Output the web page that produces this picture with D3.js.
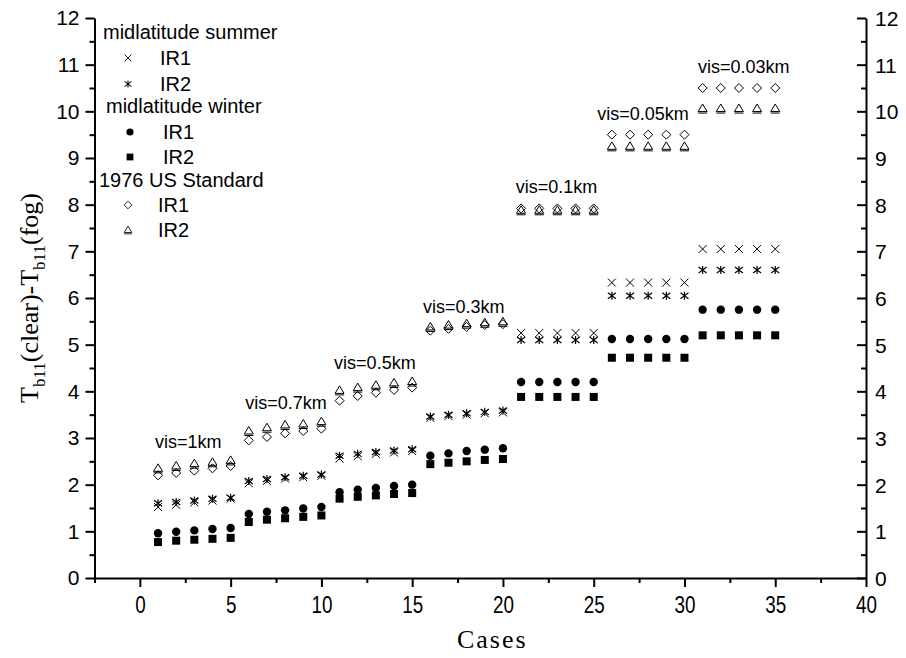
<!DOCTYPE html>
<meta charset="utf-8">
<style>
    body {
        margin: 0;
        padding: 0;
        background: #fff;
    }

    svg {
        display: block;
    }

    .tick-label {
        font-family: "Liberation Sans", Arial, sans-serif;
        font-size: 21px;
        fill: #000;
    }

    .legend text, .note {
        font-family: "Liberation Sans", Arial, sans-serif;
        fill: #000;
    }

    .title {
        font-family: "Liberation Serif", "Times New Roman", serif;
        font-size: 26px;
        fill: #000;
    }
</style>
<svg width="906" height="658"></svg>
<script src="https://cdnjs.cloudflare.com/ajax/libs/d3/7.8.5/d3.min.js"></script>
<script>
    // cases 1..35, seven visibility groups of five
    var cases = [1, 2, 3, 4, 5, 6, 7, 8, 9, 10, 11, 12, 13, 14, 15, 16, 17, 18, 19, 20,
        21, 22, 23, 24, 25, 26, 27, 28, 29, 30, 31, 32, 33, 34, 35];

    var mlsIR1 = [1.52, 1.57, 1.62, 1.66, 1.70, 2.03, 2.08, 2.13, 2.16, 2.19,
        2.56, 2.61, 2.66, 2.69, 2.72, 3.43, 3.47, 3.50, 3.53, 3.55,
        5.25, 5.25, 5.25, 5.25, 5.25, 6.33, 6.33, 6.33, 6.33, 6.33,
        7.05, 7.05, 7.05, 7.05, 7.05];
    var mlsIR2 = [1.60, 1.63, 1.66, 1.70, 1.72, 2.08, 2.12, 2.16, 2.19, 2.22,
        2.62, 2.66, 2.70, 2.73, 2.76, 3.46, 3.50, 3.53, 3.56, 3.59,
        5.10, 5.10, 5.10, 5.10, 5.10, 6.05, 6.05, 6.05, 6.05, 6.05,
        6.60, 6.60, 6.60, 6.60, 6.60];
    var mlwIR1 = [0.96, 0.99, 1.02, 1.05, 1.07, 1.37, 1.42, 1.45, 1.49, 1.52,
        1.84, 1.89, 1.93, 1.97, 2.00, 2.62, 2.67, 2.72, 2.75, 2.78,
        4.20, 4.20, 4.20, 4.20, 4.20, 5.12, 5.12, 5.12, 5.12, 5.12,
        5.75, 5.75, 5.75, 5.75, 5.75];
    var mlwIR2 = [0.77, 0.80, 0.82, 0.84, 0.86, 1.20, 1.25, 1.28, 1.31, 1.34,
        1.70, 1.74, 1.77, 1.80, 1.82, 2.44, 2.47, 2.50, 2.53, 2.55,
        3.88, 3.88, 3.88, 3.88, 3.88, 4.72, 4.72, 4.72, 4.72, 4.72,
        5.20, 5.20, 5.20, 5.20, 5.20];
    var usIR1 = [2.20, 2.25, 2.30, 2.35, 2.40, 2.95, 3.02, 3.10, 3.15, 3.20,
        3.80, 3.90, 3.97, 4.03, 4.08, 5.30, 5.34, 5.38, 5.42, 5.44,
        7.92, 7.92, 7.92, 7.92, 7.92, 9.50, 9.50, 9.50, 9.50, 9.50,
        10.50, 10.50, 10.50, 10.50, 10.50];
    var usIR2 = [2.35, 2.40, 2.45, 2.48, 2.52, 3.15, 3.22, 3.28, 3.30, 3.35,
        4.02, 4.08, 4.13, 4.18, 4.21, 5.38, 5.42, 5.45, 5.47, 5.49,
        7.88, 7.88, 7.88, 7.88, 7.88, 9.25, 9.25, 9.25, 9.25, 9.25,
        10.06, 10.06, 10.06, 10.06, 10.06];

    // visibility notes: text, case where it starts, value of its baseline
    var visText = ["vis=1km", "vis=0.7km", "vis=0.5km", "vis=0.3km", "vis=0.1km", "vis=0.05km", "vis=0.03km"];
    var visCase = [0.83, 5.8, 10.7, 15.6, 20.7, 25.2, 30.75];
    var visValue = [2.79, 3.62, 4.48, 5.68, 8.25, 9.82, 10.82];

    var xTicks = [0, 5, 10, 15, 20, 25, 30, 35, 40];
    var xMinor = [-2.5, 2.5, 7.5, 12.5, 17.5, 22.5, 27.5, 32.5, 37.5];
    var yTicks = [0, 1, 2, 3, 4, 5, 6, 7, 8, 9, 10, 11, 12];
    var yMinor = [0.5, 1.5, 2.5, 3.5, 4.5, 5.5, 6.5, 7.5, 8.5, 9.5, 10.5, 11.5];

    var svg = d3.select("svg");
    var plotLeft = 94.5, plotRight = 866, plotTop = 18, plotBottom = 578;

    var x = d3.scaleLinear().domain([-2.5, 40]).range([plotLeft, plotRight]);
    var y = d3.scaleLinear().domain([0, 12]).range([plotBottom, plotTop]);

    // ---- axes
    var xAxis = svg.append("g").attr("transform", "translate(0," + plotBottom + ")")
        .call(d3.axisBottom(x).tickValues(xTicks).tickSize(9).tickSizeOuter(0).tickPadding(10));
    svg.append("g").attr("transform", "translate(0," + plotBottom + ")")
        .call(d3.axisBottom(x).tickValues(xMinor).tickSize(5).tickFormat(""))
        .select(".domain").remove();

    var yAxisL = svg.append("g").attr("transform", "translate(" + plotLeft + ",0)")
        .call(d3.axisLeft(y).tickValues(yTicks).tickSize(9).tickSizeOuter(0).tickPadding(6));
    svg.append("g").attr("transform", "translate(" + plotLeft + ",0)")
        .call(d3.axisLeft(y).tickValues(yMinor).tickSize(5).tickFormat(""))
        .select(".domain").remove();

    // right axis: ticks point into the plot, labels outside
    var yAxisR = svg.append("g").attr("transform", "translate(" + plotRight + ",0)")
        .call(d3.axisLeft(y).tickValues(yTicks).tickSize(9).tickSizeOuter(0).tickFormat(""));
    svg.append("g").attr("transform", "translate(" + plotRight + ",0)")
        .call(d3.axisLeft(y).tickValues(yMinor).tickSize(5).tickFormat(""))
        .select(".domain").remove();
    yAxisR.selectAll(".tick").append("text")
        .attr("x", 9)
        .attr("dy", "0.36em")
        .attr("text-anchor", "start")
        .text(function(d) { return d; });

    svg.selectAll(".domain").attr("stroke", "#000").attr("stroke-width", 2);
    svg.selectAll(".tick line").attr("stroke", "#000").attr("stroke-width", 2);
    svg.selectAll("g").attr("font-family", null).attr("font-size", null);
    svg.selectAll(".tick text").attr("class", "tick-label").attr("fill", null);

    // condensed look of the bottom tick numbers
    xAxis.selectAll(".tick text")
        .style("font-size", "23px")
        .attr("transform", "scale(0.82,1)");

    // ---- axis titles
    svg.append("text").attr("class", "title")
        .attr("x", (plotLeft + plotRight) / 2 + 12).attr("y", 648)
        .attr("text-anchor", "middle")
        .attr("letter-spacing", "2px")
        .text("Cases");

    var yt = svg.append("text").attr("class", "title")
        .attr("transform", "translate(38," + ((plotTop + plotBottom) / 2) + ") rotate(-90)")
        .attr("text-anchor", "middle");
    yt.append("tspan").text("T");
    yt.append("tspan").attr("dy", 7).style("font-size", "17px").text("b11");
    yt.append("tspan").attr("dy", -7).text("(clear)-T");
    yt.append("tspan").attr("dy", 7).style("font-size", "17px").text("b11");
    yt.append("tspan").attr("dy", -7).text("(fog)");

    // ---- markers
    function drawSym(g, kind) {
        var s = 4;
        if (kind === "cross") {
            g.append("path").attr("d", "M-" + s + ",-" + s + "L" + s + "," + s + "M-" + s + "," + s + "L" + s + ",-" + s)
                .attr("stroke", "#000").attr("stroke-width", 1).attr("fill", "none");
        } else if (kind === "star") {
            g.append("path").attr("d", "M-" + s + ",-" + (s - 1) + "L" + s + "," + (s - 1) +
                    "M-" + s + "," + (s - 1) + "L" + s + ",-" + (s - 1) + "M0,-" + s + "L0," + s)
                .attr("stroke", "#000").attr("stroke-width", 1.2).attr("fill", "none");
        } else if (kind === "circle") {
            g.append("circle").attr("r", 4.2).attr("fill", "#000");
        } else if (kind === "square") {
            g.append("rect").attr("x", -4).attr("y", -4).attr("width", 8).attr("height", 8).attr("fill", "#000");
        } else if (kind === "diamond") {
            g.append("path").attr("d", "M0,-4.5L4.5,0L0,4.5L-4.5,0Z")
                .attr("stroke", "#000").attr("stroke-width", 1).attr("fill", "none");
        } else if (kind === "triangle") {
            g.append("path").attr("d", "M0,-4.5L4.5,3L-4.5,3Z")
                .attr("stroke", "#000").attr("stroke-width", 1).attr("fill", "none");
            g.append("line").attr("x1", -4.5).attr("x2", 4.5).attr("y1", 4.5).attr("y2", 4.5)
                .attr("stroke", "#000").attr("stroke-width", 1);
        }
    }

    var series = [
        { values: usIR1, sym: "diamond" },
        { values: usIR2, sym: "triangle" },
        { values: mlsIR1, sym: "cross" },
        { values: mlsIR2, sym: "star" },
        { values: mlwIR1, sym: "circle" },
        { values: mlwIR2, sym: "square" }
    ];

    series.forEach(function(s) {
        svg.append("g").selectAll("g")
            .data(cases)
            .enter().append("g")
            .attr("transform", function(d, i) {
                return "translate(" + x(d) + "," + y(s.values[i]) + ")";
            })
            .each(function() { drawSym(d3.select(this), s.sym); });
    });

    // ---- vis notes
    svg.append("g").selectAll("text")
        .data(visText)
        .enter().append("text")
        .attr("class", "note")
        .attr("x", function(d, i) { return x(visCase[i]); })
        .attr("y", function(d, i) { return y(visValue[i]); })
        .style("font-size", "18px")
        .text(function(d) { return d; });

    // ---- legend
    var legend = svg.append("g").attr("class", "legend");
    var legendRows = [
        { text: "midlatitude summer", x: 103, y: 32 },
        { sym: "cross", text: "IR1", sx: 128, x: 160, y: 58 },
        { sym: "star", text: "IR2", sx: 128, x: 160, y: 84 },
        { text: "midlatitude winter", x: 106, y: 106 },
        { sym: "circle", text: "IR1", sx: 130, x: 163, y: 132 },
        { sym: "square", text: "IR2", sx: 130, x: 163, y: 157 },
        { text: "1976 US Standard", x: 99, y: 180 },
        { sym: "diamond", text: "IR1", sx: 128, x: 158, y: 205 },
        { sym: "triangle", text: "IR2", sx: 128, x: 158, y: 230 }
    ];
    legendRows.forEach(function(r) {
        legend.append("text")
            .attr("x", r.x).attr("y", r.y)
            .attr("dy", "0.36em")
            .style("font-size", "20px")
            .text(r.text);
        if (r.sym) {
            drawSym(legend.append("g").attr("transform", "translate(" + r.sx + "," + r.y + ") scale(0.85)"), r.sym);
        }
    });
</script>
